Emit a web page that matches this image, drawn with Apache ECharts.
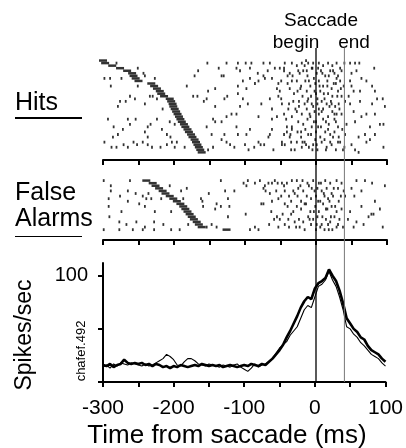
<!DOCTYPE html>
<html><head><meta charset="utf-8">
<script src="https://cdn.jsdelivr.net/npm/echarts@6/dist/echarts.min.js"></script>
<style>html,body{margin:0;padding:0;background:#fff}#c{width:406px;height:448px}</style>
</head><body><div id="c"></div>
<script>
// ---------- DATA ----------
const xTickValues = [-300,-250,-200,-150,-100,-50,0,50,100];
const xLabelValues = [-300,-200,-100,0,100];
const yTickValues = [0,50,100];
const yLabelValues = [100];
const saccadeBegin = 0;
const saccadeEnd = 40;

// PSTH (spikes/sec) in 5 ms bins
const binTimes = [-300,-295,-290,-285,-280,-275,-270,-265,-260,-255,
  -250,-245,-240,-235,-230,-225,-220,-215,-210,-205,
  -200,-195,-190,-185,-180,-175,-170,-165,-160,-155,
  -150,-145,-140,-135,-130,-125,-120,-115,-110,-105,
  -100,-95,-90,-85,-80,-75,-70,-65,-60,-55,
  -50,-45,-40,-35,-30,-25,-20,-15,-10,-5,
  0,5,10,15,20,25,30,35,40,45,
  50,55,60,65,70,75,80,85,90,95,100];
const hitsRate = [16,15,17,14,16,17,21,18,17,18,
  17,18,16,17,15,17,16,14,15,13,
  15,14,16,15,14,15,16,15,17,16,
  15,16,15,16,14,15,16,15,14,15,
  16,15,17,16,15,17,16,19,22,26,
  30,35,42,48,55,62,70,76,80,78,
  88,93,95,98,106,100,95,86,74,60,
  55,50,47,42,40,34,30,28,26,22,19];
const faRate = [14,16,13,17,15,18,17,16,18,17,
  16,15,17,15,16,18,20,22,26,24,
  21,16,15,19,22,22,20,17,16,15,
  17,16,15,14,16,15,14,16,17,14,
  12,10,13,17,14,16,17,19,22,27,
  32,35,38,44,48,52,60,68,72,70,
  80,90,92,96,104,96,90,80,68,52,
  50,45,42,37,34,30,26,24,22,18,15];

// Raster: cue mark time for trial rows 1..N
const hitsCue = [-300,-297,-287,-276,-266,-259,-257,-254,-250,-232,-228,-224,-220,-218,-214,-206,-204,-202,-201,-199,-197,-195,-193,-191,-189,-186,-184,-181,-179,-176,-174,-171,-169,-167,-165,-163,-161];
const faCue = [-239,-230,-226,-221,-216,-212,-206,-201,-196,-191,-187,-184,-181,-178,-175,-172,-168,-165,-161,-126];

// Raster spikes: [time ms, trial row]
const hitsSpikes = [
[-281,2],[-298,8],[-290,8],[-274,8],[-251,4],[-243,6],[-241,7],[-227,8],[-251,11],[-289,11],[-171,7],[-182,11],[-173,15],[-262,15],[-255,16],[-234,15],[-230,15],[-224,16],[-276,17],[-268,17],[-279,19],[-241,18],[-216,20],[-293,24],[-265,24],[-254,24],[-262,26],[-285,27],[-233,26],[-224,24],[-237,27],[-206,25],[-199,26],[-272,28],[-279,30],[-286,31],[-241,29],[-217,28],[-210,30],[-237,31],[-205,31],[-298,33],[-288,35],[-281,35],[-271,34],[-265,35],[-257,33],[-252,34],[-244,33],[-237,34],[-231,35],[-219,35],[-210,34],[-203,33],[-196,33],[-199,35],[-185,35],
[-153,2],[-126,2],[-110,2],[-99,2],[-91,2],[-74,2],[-65,2],[-44,2],[-34,2],[-166,5],[-137,4],[-112,4],[-107,5],[-93,4],[-82,6],[-68,5],[-58,4],[-51,4],[-45,5],[-40,7],[-37,6],[-133,7],[-130,7],[-93,8],[-74,7],[-72,8],[-62,8],[-103,9],[-81,9],[-86,10],[-53,10],[-49,9],[-34,9],[-110,11],[-98,12],[-142,12],[-55,12],[-51,13],[-37,12],[-152,13],[-167,15],[-154,16],[-158,17],[-125,15],[-129,16],[-110,14],[-65,16],[-53,15],[-49,16],[-32,17],[-103,16],[-77,18],[-142,19],[-107,19],[-96,18],[-48,18],[-39,20],[-62,20],[-119,22],[-126,23],[-112,22],[-145,24],[-142,25],[-133,25],[-81,23],[-62,24],[-55,23],[-45,22],[-34,23],[-154,27],[-112,27],[-93,28],[-62,28],[-41,27],[-34,28],[-147,30],[-129,30],[-110,30],[-98,30],[-65,30],[-45,30],[-41,29],[-37,31],[-133,32],[-126,33],[-100,34],[-81,33],[-78,34],[-67,31],[-48,33],[-44,34],[-35,33],[-152,36],[-145,35],[-121,34],[-115,35],[-95,36],[-87,35],[-73,34],[-60,36],[-35,36],
[-27,3],[-20,2],[-16,3],[-11,2],[-4,2],[4,2],[10,3],[17,2],[23,3],[29,2],[34,4],[40,2],[48,2],[55,2],[61,2],[82,4],
[-25,5],[-18,5],[-12,7],[-6,4],[1,6],[7,5],[13,7],[20,5],[26,6],[31,7],[36,5],[50,6],[57,5],[64,8],[71,9],[48,9],
[-27,9],[-21,11],[-15,9],[-8,11],[-1,10],[4,9],[10,11],[16,9],[22,12],[28,10],[34,9],[39,11],[50,11],[53,13],[79,11],[94,16],
[-26,13],[-19,15],[-13,13],[-7,15],[0,14],[6,13],[12,16],[17,14],[23,15],[31,13],[36,15],[46,15],[62,13],[83,13],[97,19],
[-24,17],[-16,18],[-11,16],[-4,19],[2,18],[8,17],[15,18],[21,17],[27,19],[32,18],[41,17],[48,18],[62,17],[79,18],[86,16],
[-27,21],[-20,22],[-13,20],[-8,23],[-2,21],[4,22],[10,20],[17,23],[23,21],[29,22],[36,22],[53,21],[64,23],[71,22],[83,22],[95,26],
[-25,25],[-18,26],[-12,24],[-6,27],[0,25],[7,27],[14,25],[18,26],[26,24],[31,27],[43,26],[55,25],[76,27],[90,26],
[-26,29],[-21,31],[-15,28],[-7,30],[0,29],[6,31],[13,29],[20,30],[26,29],[32,31],[41,30],[60,31],[69,30],[83,30],[76,32],
[-27,33],[-20,35],[-16,33],[-10,35],[-4,34],[2,36],[8,33],[15,35],[22,34],[28,36],[34,33],[40,35],[50,34],[55,36],[71,33],[95,35],[60,37],
[-45,4],[-40,10],[-38,18],[-42,24],[-36,30],[-48,34],[-33,7],[-31,14],[-29,20],[-34,27],[-30,36],[-23,6],[-22,12],[-24,19],[-21,29],[-19,33],[-14,1],[-13,5],[-10,9],[-12,17],[-9,22],[-11,30],[-14,34],[-5,4],[-3,8],[-2,13],[-6,18],[-3,25],[-1,32],[-5,36],[3,4],[5,11],[2,16],[4,20],[3,27],[1,34],[9,6],[11,14],[8,21],[10,24],[12,32],[14,36],[18,7],[16,11],[19,19],[17,28],[20,33],[24,5],[25,10],[22,18],[26,22],[24,31],[29,8],[30,15],[28,25],[31,33],[35,12],[33,20],[37,28],[38,36]
];

const faSpikes = [
[-299,1],[-289,3],[-289,5],[-262,1],[-265,5],[-276,7],[-292,8],[-254,6],[-292,11],[-265,9],[-244,7],[-239,8],[-232,8],[-236,6],[-218,8],[-190,5],[-182,4],[-206,3],[-187,8],[-249,10],[-241,11],[-274,13],[-227,13],[-204,13],[-291,15],[-277,17],[-267,18],[-253,17],[-241,19],[-228,17],[-215,18],[-244,20],[-299,20],[-277,20],[-258,20],[-228,20],[-204,20],[-192,20],[-180,18],
[-134,1],[-128,5],[-151,6],[-160,9],[-162,8],[-159,11],[-140,10],[-142,12],[-134,11],[-124,8],[-122,11],[-115,5],[-124,15],[-147,18],[-140,19],[-154,19],[-102,2],[-96,1],[-98,3],[-86,2],[-79,1],[-74,4],[-72,3],[-67,2],[-62,2],[-58,1],[-54,2],[-48,2],[-41,2],[-34,1],[-71,5],[-65,6],[-56,5],[-49,7],[-44,5],[-38,7],[-32,5],[-77,10],[-74,10],[-62,9],[-53,8],[-44,10],[-35,9],[-99,14],[-63,13],[-55,15],[-47,14],[-39,16],[-32,13],[-59,16],[-44,18],[-38,19],[-53,19],[-93,20],[-86,19],[-81,20],[-66,18],[-51,16],[-30,17],
[-27,1],[-19,1],[-12,2],[-4,1],[4,2],[13,1],[20,2],[29,1],[36,2],[57,1],[69,1],[79,2],[97,3],
[-25,4],[-18,5],[-10,3],[-2,5],[2,4],[8,5],[15,4],[22,6],[31,4],[39,5],[50,4],[64,5],
[-26,7],[-21,9],[-13,7],[-7,8],[0,7],[6,9],[12,7],[17,8],[24,7],[32,9],[41,7],[54,7],[83,9],
[-27,11],[-21,12],[-16,10],[-8,13],[-1,11],[4,13],[10,10],[16,12],[22,11],[29,13],[36,12],[48,13],[64,11],[78,14],[90,12],
[-24,16],[-18,17],[-11,15],[-4,16],[2,15],[8,18],[14,16],[20,17],[26,15],[31,18],[45,16],[57,17],[74,15],[81,14],
[-23,19],[-16,20],[-7,18],[0,20],[6,19],[12,20],[17,18],[23,20],[29,19],[53,19],[67,18],[94,19],
[-45,3],[-40,11],[-35,14],[-30,6],[-28,19],[-22,3],[-14,10],[-9,16],[-6,4],[-3,13],[1,18],[3,9],[7,2],[9,15],[11,6],[14,12],[18,20],[19,9],[21,15],[25,4],[27,11],[33,16],[35,7],[38,19]
];

// ---------- CHART ----------
const FONT = '"Liberation Sans", Arial, Helvetica, sans-serif';
const chart = echarts.init(document.getElementById('c'), null, {renderer: 'canvas'});
const L = 103, R = 19;
const axisLineStyle = {color: '#000', width: 2};
function rasterX(g) {
  return {type: 'value', gridIndex: g, min: -300, max: 100, interval: 50,
    axisLine: {show: true, onZero: false, lineStyle: axisLineStyle},
    axisTick: {show: true, length: 5, lineStyle: axisLineStyle},
    axisLabel: {show: false}, splitLine: {show: false}};
}
const hitsCueData = hitsCue.map((t, i) => [t, i + 1]);
const faCueData = faCue.map((t, i) => [t, i + 1]);
const pairs = (a, b) => a.map((t, i) => [t, b[i]]);

chart.setOption({
  animation: false,
  backgroundColor: '#fff',
  grid: [
    {left: L, right: R, top: 58, height: 102},
    {left: L, right: R, top: 178, height: 62},
    {left: L, right: R, top: 263, height: 119},
    {left: L, right: R, top: 48, height: 334}
  ],
  xAxis: [
    rasterX(0), rasterX(1),
    {type: 'value', gridIndex: 2, min: -300, max: 100, interval: 50,
      axisLine: {show: true, onZero: false, lineStyle: axisLineStyle},
      axisTick: {show: true, length: 5, lineStyle: axisLineStyle, customValues: xTickValues},
      axisLabel: {show: true, customValues: xLabelValues, margin: 16, color: '#000', fontSize: 21, fontFamily: FONT,
        formatter: v => String(v)},
      splitLine: {show: false}},
    {type: 'value', gridIndex: 3, min: -300, max: 100, show: false}
  ],
  yAxis: [
    {type: 'value', gridIndex: 0, min: 0, max: 40, inverse: true, show: false},
    {type: 'value', gridIndex: 1, min: 0, max: 24, inverse: true, show: false},
    {type: 'value', gridIndex: 2, min: 0, max: 112, interval: 50,
      axisLine: {show: true, onZero: false, lineStyle: axisLineStyle},
      axisTick: {show: true, length: 5, lineStyle: axisLineStyle, customValues: yTickValues},
      axisLabel: {show: true, customValues: yLabelValues, margin: 15, color: '#000', fontSize: 20, fontFamily: FONT},
      splitLine: {show: false}},
    {type: 'value', gridIndex: 3, min: 0, max: 1, show: false}
  ],
  series: [
    {type: 'scatter', xAxisIndex: 0, yAxisIndex: 0, data: hitsSpikes, symbol: 'rect', symbolSize: [1.8, 2.8],
      itemStyle: {color: '#000'}, silent: true},
    {type: 'scatter', xAxisIndex: 0, yAxisIndex: 0, data: hitsCueData, symbol: 'rect', symbolSize: [8, 2.5],
      itemStyle: {color: '#000'}, silent: true},
    {type: 'scatter', xAxisIndex: 1, yAxisIndex: 1, data: faSpikes, symbol: 'rect', symbolSize: [1.8, 2.8],
      itemStyle: {color: '#000'}, silent: true},
    {type: 'scatter', xAxisIndex: 1, yAxisIndex: 1, data: faCueData, symbol: 'rect', symbolSize: [8, 2.5],
      itemStyle: {color: '#000'}, silent: true},
    {type: 'line', xAxisIndex: 2, yAxisIndex: 2, data: pairs(binTimes, faRate), symbol: 'none',
      lineStyle: {color: '#000', width: 1.1}, silent: true},
    {type: 'line', xAxisIndex: 2, yAxisIndex: 2, data: pairs(binTimes, hitsRate), symbol: 'none',
      lineStyle: {color: '#000', width: 2.6}, silent: true},
    {type: 'line', xAxisIndex: 3, yAxisIndex: 3, data: [[saccadeBegin, 0], [saccadeBegin, 1]], symbol: 'none',
      lineStyle: {color: '#000', width: 1.3}, silent: true},
    {type: 'line', xAxisIndex: 3, yAxisIndex: 3, data: [[saccadeEnd, 0], [saccadeEnd, 1]], symbol: 'none',
      lineStyle: {color: '#777', width: 1}, silent: true}
  ],
  graphic: [
    {type: 'text', left: 15, top: 91, style: {text: 'Hits', font: '25px ' + FONT, fill: '#000'}},
    {type: 'line', shape: {x1: 15, y1: 118, x2: 82, y2: 118}, style: {stroke: '#000', lineWidth: 2}},
    {type: 'text', left: 15, top: 181, style: {text: 'False', font: '25px ' + FONT, fill: '#000'}},
    {type: 'text', left: 15, top: 207, style: {text: 'Alarms', font: '25px ' + FONT, fill: '#000'}},
    {type: 'line', shape: {x1: 15, y1: 236.5, x2: 82, y2: 236.5}, style: {stroke: '#000', lineWidth: 1}},
    {type: 'text', x: 321, y: 21, style: {text: 'Saccade', font: '19px ' + FONT, fill: '#000', align: 'center', verticalAlign: 'middle'}},
    {type: 'text', x: 296, y: 43, style: {text: 'begin', font: '19px ' + FONT, fill: '#000', align: 'center', verticalAlign: 'middle'}},
    {type: 'text', x: 354, y: 43, style: {text: 'end', font: '19px ' + FONT, fill: '#000', align: 'center', verticalAlign: 'middle'}},
    {type: 'text', x: 227, y: 436, style: {text: 'Time from saccade (ms)', font: '26px ' + FONT, fill: '#000', align: 'center', verticalAlign: 'middle'}},
    {type: 'text', x: 25, y: 335, rotation: Math.PI / 2, style: {text: 'Spikes/sec', font: '23px ' + FONT, fill: '#000', align: 'center', verticalAlign: 'middle'}},
    {type: 'text', x: 81, y: 351, rotation: Math.PI / 2, style: {text: 'chafef.492', font: '13px ' + FONT, fill: '#000', align: 'center', verticalAlign: 'middle'}}
  ]
});
</script></body></html>
